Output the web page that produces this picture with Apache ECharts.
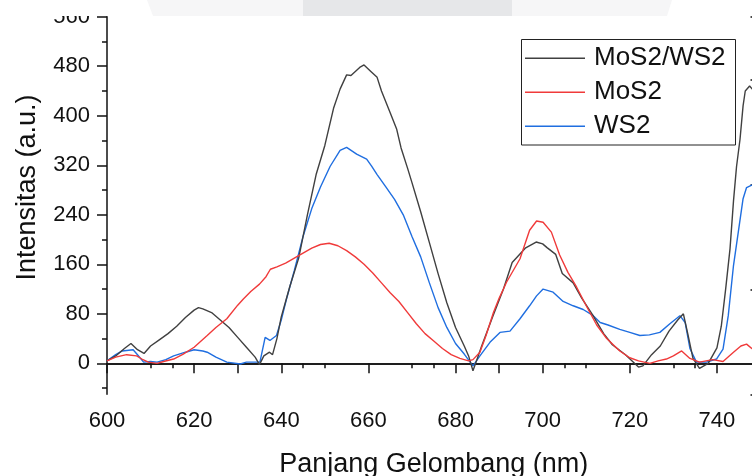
<!DOCTYPE html>
<html><head><meta charset="utf-8">
<script src="https://cdn.jsdelivr.net/npm/echarts@6/dist/echarts.min.js"></script>
<style>html,body{margin:0;padding:0;background:#fff}#c{width:752px;height:476px}</style>
</head><body><div id="c"></div>
<script>
const seriesNames = ['MoS2/WS2', 'MoS2', 'WS2'];

const mosWsX = [600,602,604,605.5,607,608.5,610,612,614,616,618,620,621,622,624,626,628,630,632,634,635,636,637.3,638,639,640,641,642,644,646,648,650,652,653.5,655,656,658,659,660.5,662,663,665,666.5,667.5,669,670,672,674,676,678,680,682,683,684,685,686,688.5,691,693,696,698.5,700,701,703,704.5,707,709,711.5,714,716,719,722,723,725,727,729,731,732.3,733.3,734.5,736,738,740,741,742,743,743.8,744.5,745.3,746,746.5,747.5,748.5,750];
const mosWsY = [4,12,24,32,22,16,28,38,48,60,74,86,90,88,82,70,58,42,26,10,-2,12,18,14,40,75,100,125,170,240,305,352,412,443,466,465,478,482,472,462,440,405,378,348,315,292,245,195,145,98,58,28,12,-12,8,28,75,120,163,186,196,193,187,176,145,130,105,78,48,30,14,-6,-4,14,28,52,70,80,48,8,-8,0,25,60,120,185,262,318,362,416,440,448,440,445];

const mosX = [600,602,604.5,606.8,608,609.5,611.5,613,615.3,617.5,620,623,625,627.5,630,631.3,633,635,636.5,637.5,639,641,643,645,647,649,651,653,655,657,659,661,663,665,667,669,671,673,675,677,679,681,683,684,685.6,687,688.7,690,691.7,694.8,697,698.6,700.1,702,703.9,705.8,707.8,710,712.4,714.7,717.7,720,722,724.6,726.5,728.4,730,731.9,733.8,736,739,741.4,743.8,745.5,746.8,748,750];
const mosY = [4,10,14,12,7,2,0,3,7,15,26,45,58,72,94,104,116,128,140,152,156,162,170,178,186,192,194,190,182,172,160,146,130,114,100,82,64,48,36,24,14,8,4,6,18,45,82,105,131,169,215,230,228,212,175,147,123,93,62,40,20,9,4,0,4,7,12,20,8,2,6,3,18,28,31,24,22];

const wsX = [600,602,603.5,606,607,608.4,610,611.5,613.5,615.3,618,620,622,623,625,627.5,630.6,632,634,635.1,636.3,637.4,638.9,640,641.2,643,645,647,649,651.2,653.5,655,657.3,659.6,660.7,662,664,666,668,670,672,674,676,678,680,682,684,685.6,687.9,690.2,692.5,694.8,697,698.6,700.1,702.4,704.7,707,709.3,711.6,713.2,715,717.7,720,722.3,724.5,726.9,729.2,731.5,732.7,733.8,735.3,737.6,739.9,741.4,742.6,743.8,744.9,746,746.8,748,750];
const wsY = [4,14,20,22,14,2,3,2,6,12,18,22,20,18,10,2,-1,2,2,2,42,37,45,70,104,150,205,250,285,318,344,349,338,330,319,305,285,265,240,205,172,130,90,58,32,15,-4,12,34,50,52,72,93,109,120,115,100,93,87,77,66,62,55,50,45,46,50,64,77,66,24,2,2,7,23,77,158,212,266,284,288,292];

const yLabelValues = [0,80,160,240,320,400,480,560];
const yMinorValues = [-40,40,120,200,280,360,440,520];

function pairs(xs, ys){ return xs.map((x,i)=>[x, ys[i]]); }

const FONT = 'Liberation Sans, Arial, sans-serif';
const AX = '#111';
const chart = echarts.init(document.getElementById('c'), null, {renderer:'canvas'});
chart.setOption({
  animation:false,
  backgroundColor:'#fff',
  textStyle:{fontFamily:FONT},
  grid:{left:107, top:16.7, width:653.5, height:377.6, containLabel:false, outerBoundsMode:'none'},
  xAxis:[
    {type:'value', position:'bottom', min:600, max:750, interval:20,
     axisLine:{lineStyle:{color:AX,width:1.5}},
     axisTick:{length:10,lineStyle:{color:AX,width:1.5}},
     minorTick:{show:true,splitNumber:2,length:5,lineStyle:{color:AX,width:1.5}},
     axisLabel:{fontSize:22,color:AX,margin:16,fontFamily:FONT,showMaxLabel:false},
     splitLine:{show:false}, minorSplitLine:{show:false},
     name:'Panjang Gelombang (nm)', nameLocation:'middle', nameGap:57,
     nameTextStyle:{fontSize:27,color:AX,fontFamily:FONT}},
    {type:'value', position:'top', min:600, max:750, interval:30,
     axisLine:{lineStyle:{color:AX,width:1.5}},
     axisTick:{inside:true,length:10,lineStyle:{color:AX,width:1.5}},
     minorTick:{show:true,splitNumber:2,length:5,lineStyle:{color:AX,width:1.5}},
     axisLabel:{show:false}, splitLine:{show:false}}
  ],
  yAxis:[
    {type:'value', position:'left', min:-50, max:560,
     axisLine:{show:true,lineStyle:{color:AX,width:1.5}},
     axisTick:{show:true,length:10,customValues:yLabelValues,lineStyle:{color:AX,width:1.5}},
     axisLabel:{fontSize:22,color:AX,margin:17,fontFamily:FONT,customValues:yLabelValues},
     splitLine:{show:false},
     name:'Intensitas (a.u.)', nameLocation:'middle', nameGap:66, nameRotate:90,
     nameTextStyle:{fontSize:27,color:AX,fontFamily:FONT,padding:[0,0,0,36]}},
    {type:'value', position:'left', min:-50, max:560,
     axisLine:{show:false},
     axisTick:{show:true,length:5,customValues:yMinorValues,lineStyle:{color:AX,width:1.5}},
     axisLabel:{show:false}, splitLine:{show:false}},
    {type:'value', position:'right', min:0, max:3.596, interval:1,
     axisLine:{show:true,lineStyle:{color:AX,width:1.5}},
     axisTick:{inside:true,length:10,lineStyle:{color:AX,width:1.5}},
     axisLabel:{show:false}, splitLine:{show:false}}
  ],
  legend:{
    orient:'vertical', left:525, top:43.3, padding:0, itemGap:4,
    itemWidth:60, itemHeight:1.4, icon:'rect',
    data:seriesNames,
    textStyle:{fontSize:26,color:AX,fontFamily:FONT,lineHeight:30,padding:[0,0,0,4]}
  },
  series:[
    {name:seriesNames[0], type:'line', data:pairs(mosWsX,mosWsY), showSymbol:false, symbol:'none',
     lineStyle:{color:'#404040',width:1.4}, itemStyle:{color:'#404040'}, z:3},
    {name:seriesNames[1], type:'line', data:pairs(mosX,mosY), showSymbol:false, symbol:'none',
     lineStyle:{color:'#f03a3a',width:1.4}, itemStyle:{color:'#f03a3a'}, z:4},
    {name:seriesNames[2], type:'line', data:pairs(wsX,wsY), showSymbol:false, symbol:'none',
     lineStyle:{color:'#1f6ee0',width:1.4}, itemStyle:{color:'#1f6ee0'}, z:2}
  ],
  graphic:[
    {type:'rect', shape:{x:521.5,y:39.5,width:214,height:105.5}, style:{fill:'none',stroke:'#222',lineWidth:1}, z:50},
    {type:'rect', shape:{x:0,y:0,width:752,height:16}, style:{fill:'#ffffff'}, z:100},
    {type:'polygon', shape:{points:[[147,0],[672,0],[667,16],[153,16]]}, style:{fill:'#f6f6f7'}, z:101},
    {type:'rect', shape:{x:303,y:0,width:209,height:16}, style:{fill:'#e6e7e9'}, z:102}
  ]
});
</script></body></html>
